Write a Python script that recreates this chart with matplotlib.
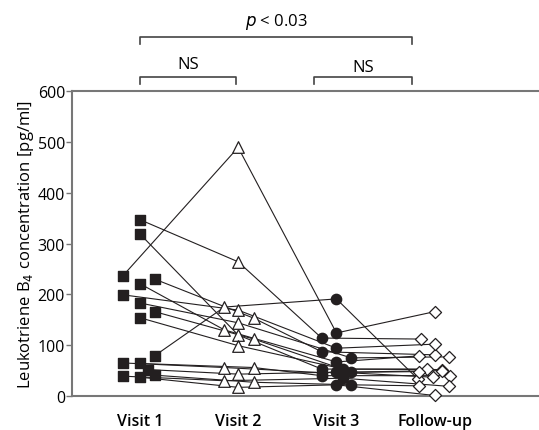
import matplotlib
matplotlib.use("Agg")
import matplotlib.pyplot as plt

# Leukotriene B4 per subject at each visit (pg/ml)
visits = ["Visit 1", "Visit 2", "Visit 3", "Follow-up"]
visit_1 = [347, 319, 237, 230, 221, 199, 183, 166, 154, 79, 65, 64, 52, 41, 39, 37]
visit_2 = [264, 120, 489, 153, 130, 169, 144, 112, 99, 175, 56, 56, 43, 27, 30, 17]
visit_3 = [114, 53, 124, 87, 67, 94, 75, 47, 53, 191, 46, 40, 47, 22, 35, 22]
follow_up = [112, 52, 166, 81, 79, 102, 77, 50, 53, 33, 48, 40, 37, 20, 19, 1]

# horizontal spread of the markers around each visit
jit_1 = [0, 0, -0.17, 0.15, 0, -0.17, 0, 0.15, 0, 0.15, -0.17, 0, 0.08, 0.15, -0.17, 0]
jit_2 = [0, 0, 0, 0.16, -0.14, 0, 0, 0.16, 0, -0.14, -0.14, 0.16, 0, 0.16, -0.14, 0]
jit_3 = [-0.15, -0.15, 0, -0.15, 0, 0, 0.15, 0.15, 0.07, 0, -0.15, -0.15, 0, 0.15, 0.07, 0]
jit_4 = [-0.14, 0.07, 0, 0, -0.16, 0, 0.14, 0.07, -0.08, -0.17, -0.16, 0.15, -0.02, -0.16, 0.14, 0]

plt.rcParams['font.family'] = ['Open Sans', 'DejaVu Sans']

fig = plt.figure(figsize=(5.39, 4.31), dpi=100)
ax = fig.add_axes([0.1336, 0.0789, 0.8645, 0.7076])

ink = '#231f20'
spine = '#777777'

for i in range(len(visit_1)):
    xs = [1 + jit_1[i], 2 + jit_2[i], 3 + jit_3[i], 4 + jit_4[i]]
    ys = [visit_1[i], visit_2[i], visit_3[i], follow_up[i]]
    ax.plot(xs, ys, color=ink, lw=0.8, zorder=1)

x1 = [1 + j for j in jit_1]
x2 = [2 + j for j in jit_2]
x3 = [3 + j for j in jit_3]
x4 = [4 + j for j in jit_4]
ax.scatter(x1, visit_1, marker='s', s=50, color=ink, zorder=3, clip_on=False)
ax.scatter(x2, visit_2, marker='^', s=70, facecolor='white', edgecolor=ink, linewidth=0.9, zorder=3, clip_on=False)
ax.scatter(x3, visit_3, marker='o', s=55, color=ink, zorder=3, clip_on=False)
ax.scatter(x4, follow_up, marker='D', s=38, facecolor='white', edgecolor=ink, linewidth=0.9, zorder=3, clip_on=False)

ax.set_xlim(0.31, 5.05)
ax.set_ylim(0, 600)
ax.set_yticks(range(0, 601, 100))
ax.set_xticks([1, 2, 3, 4])
ax.set_xticklabels(visits, fontsize=11.5, fontweight='semibold')
ax.tick_params(axis='x', length=0, pad=12)
ax.tick_params(axis='y', length=4, width=1, color=spine, labelsize=11.5, pad=1)
ax.spines['right'].set_visible(False)
for s in ['left', 'top', 'bottom']:
    ax.spines[s].set_color(spine)
    ax.spines[s].set_linewidth(1.5)
ax.set_ylabel('Leukotriene B$_4$ concentration [pg/ml]', fontsize=12, labelpad=1)

# significance brackets above the plot
def bracket(xa, xb, y, label, ty):
    ax.plot([xa, xa, xb, xb], [y - 14, y, y, y - 14], color='#444444', lw=1.2, clip_on=False)
    ax.text((xa + xb) / 2, ty, label, ha='center', va='center', fontsize=12)

bracket(1.0, 3.77, 706, '$\\mathit{p}$ < 0.03', 738)
bracket(1.0, 1.98, 627, 'NS', 653)
bracket(2.77, 3.77, 627, 'NS', 647)

fig.savefig('out.png', dpi=100)
